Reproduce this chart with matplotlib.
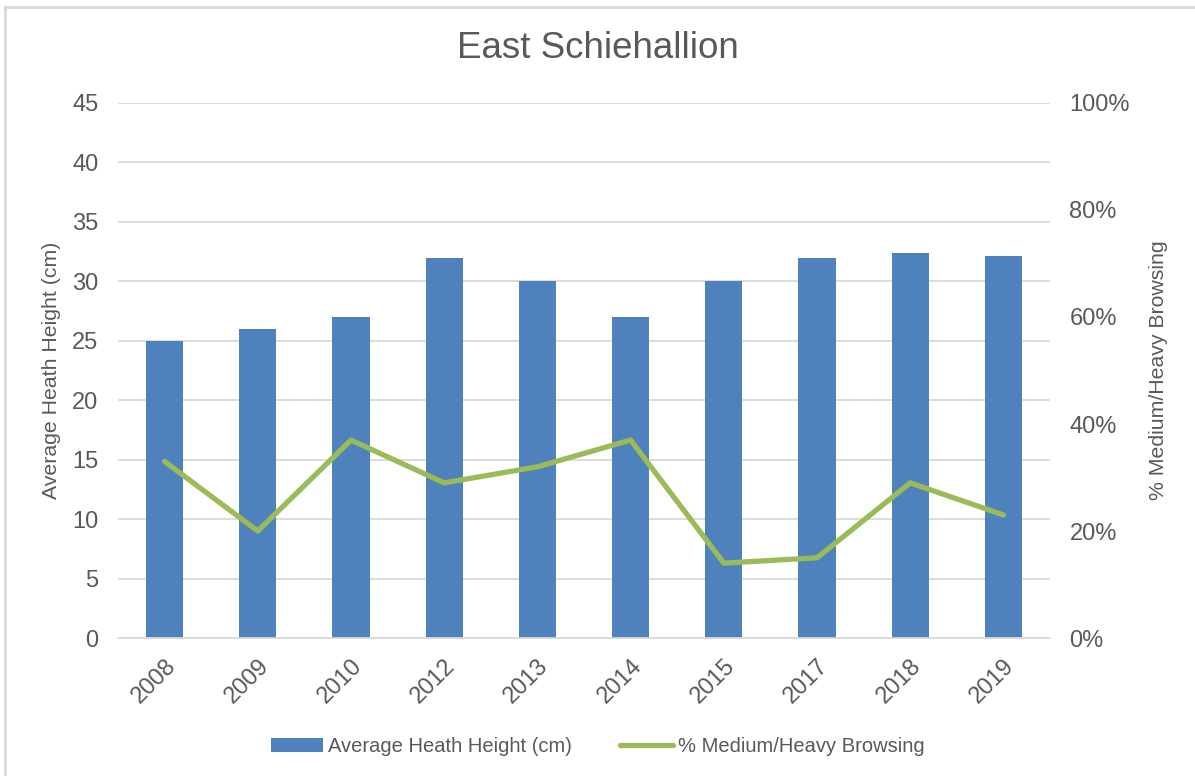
import matplotlib
matplotlib.use('Agg')
import matplotlib.pyplot as plt
import numpy as np
from matplotlib.lines import Line2D

plt.rcParams['font.family'] = ['Liberation Sans', 'DejaVu Sans']

years = ['2008', '2009', '2010', '2012', '2013', '2014', '2015', '2017', '2018', '2019']
heath_height = [25, 26, 27, 32, 30, 27, 30, 32, 32.4, 32.1]
browsing_pct = [33, 20, 37, 29, 32, 37, 14, 15, 29, 23]

text_col = '#595959'
grid_col = '#d9d9d9'

fig = plt.figure(figsize=(11.95, 7.76), dpi=100)
ax = fig.add_axes([0.0987, 0.1778, 0.78, 0.6895])
ax2 = ax.twinx()

x = np.arange(len(years))
ax.bar(x, heath_height, width=0.4, color='#4F81BD', zorder=2, label='Average Heath Height (cm)')
ax2.plot(x, browsing_pct, color='#9BBB59', linewidth=3.8, solid_capstyle='round',
         label='% Medium/Heavy Browsing', zorder=3)

ax.set_xlim(-0.5, len(years) - 0.5)
ax.set_ylim(0, 45)
ax.set_yticks(np.arange(0, 46, 5))
ax2.set_ylim(0, 100)
ax2.set_yticks(np.arange(0, 101, 20))
ax2.set_yticklabels([f'{v}%' for v in range(0, 101, 20)])

ax.yaxis.grid(True, color=grid_col, linewidth=1.3, zorder=0)
ax.set_axisbelow(True)
for a in (ax, ax2):
    for s in a.spines.values():
        s.set_visible(False)
    a.tick_params(length=0, colors=text_col, labelsize=17)
ax.spines['bottom'].set_visible(True)
ax.spines['bottom'].set_color(grid_col)
ax.spines['bottom'].set_linewidth(1.3)

ax.set_xticks(x)
ax.set_xticklabels(years, rotation=45, ha='right', rotation_mode='anchor')
ax.tick_params(axis='x', pad=12)
ax.tick_params(axis='y', pad=14)
ax2.tick_params(axis='y', pad=14)

ax.set_ylabel('Average Heath Height (cm)', color=text_col, fontsize=15.3, labelpad=8)
ax2.set_ylabel('% Medium/Heavy Browsing', color=text_col, fontsize=15.3, labelpad=14)

fig.text(0.5, 0.938, 'East Schiehallion', ha='center', va='center', color=text_col, fontsize=26.5)

h1, l1 = ax.get_legend_handles_labels()
h2, l2 = ax2.get_legend_handles_labels()
fig.legend(h1 + h2, l1 + l2, loc='center', bbox_to_anchor=(0.5, 0.038), ncol=2,
           frameon=False, fontsize=14.5, labelcolor=text_col, handlelength=2.6,
           handletextpad=0.25, columnspacing=2.4)

# chart-area frame: only top and left edges visible in the crop
fig.add_artist(Line2D([5 / 1195, 1], [1 - 7 / 776, 1 - 7 / 776], transform=fig.transFigure,
                      color=grid_col, linewidth=2))
fig.add_artist(Line2D([5 / 1195, 5 / 1195], [0, 1 - 7 / 776], transform=fig.transFigure,
                      color=grid_col, linewidth=2))

fig.savefig('out.png', dpi=100)
